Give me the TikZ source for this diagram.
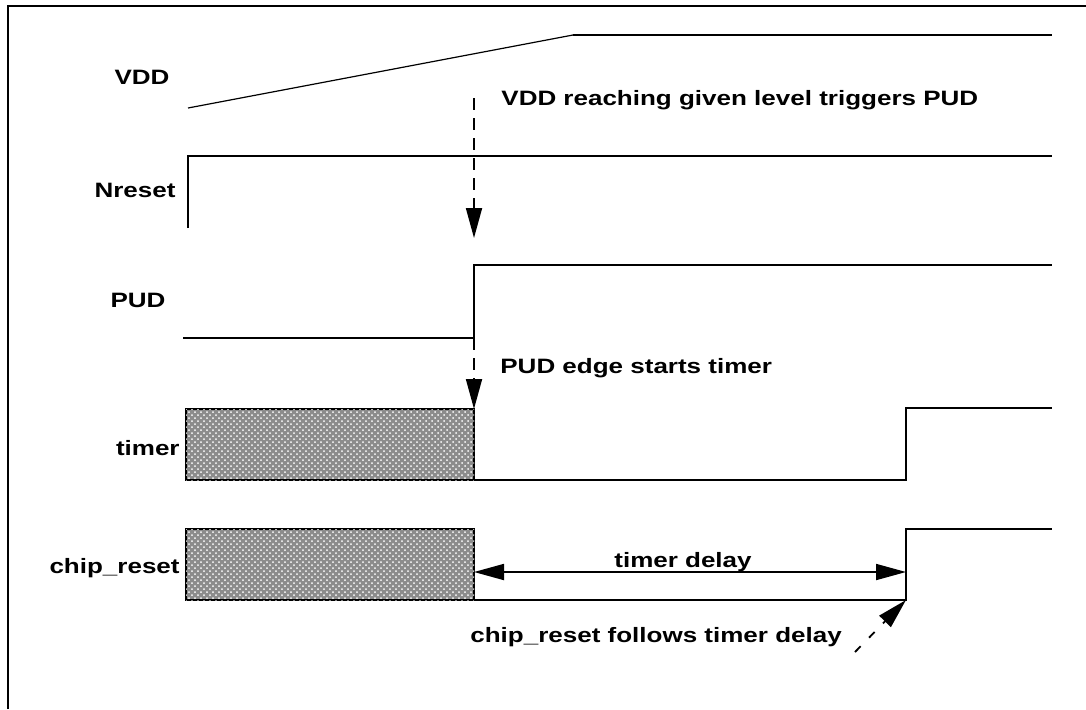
\documentclass[tikz,border=0pt]{standalone}
\usepackage{fontspec}
\setmainfont{Liberation Sans}
\usetikzlibrary{arrows.meta,patterns}

% wide, flat bold lettering of the original
\newcommand{\sigtext}[1]{\scalebox{1}[0.8]{\fontsize{13}{14}\selectfont\bfseries #1}}

\tikzset{
    wave/.style={line width=0.9pt},
    lbl/.style={inner sep=0pt},
    hatchbox/.style={wave, fill=black!45,
        postaction={pattern=crosshatch dots, pattern color=white}},
    cue/.style={line width=0.9pt, dash pattern=on 6pt off 4pt,
        -{Triangle[length=15pt,width=8pt]}},
    span/.style={line width=0.9pt,
        {Triangle[length=15pt,width=8pt]}-{Triangle[length=15pt,width=8pt]}}
}

\begin{document}
\begin{tikzpicture}[x=0.5pt, y=-0.5pt]

    \useasboundingbox (0,0) rectangle (1086,709);

    % 1. Outer frame (only top and left edge are in view)
    \draw[line width=1pt] (8,709) -- (8,6) -- (1086,6);

    % 2. Signal names
    \node[lbl] (vddname)   at (142,77)  {\sigtext{VDD}};
    \node[lbl] (nrstname)  at (135,190) {\sigtext{Nreset}};
    \node[lbl] (pudname)   at (138,300) {\sigtext{PUD}};
    \node[lbl, anchor=east] (timername) at (180,448) {\sigtext{timer}};
    \node[lbl, anchor=east] (chipname)  at (180,568) {\sigtext{chip\_reset}};

    % 3. Waveforms
    \coordinate (vddlow)  at (188,108);
    \coordinate (vddtop)  at (573,35);
    \draw[line width=0.6pt] (vddlow) -- (vddtop);
    \draw[wave] (vddtop) -- (1052,35);

    \draw[wave] (188,228) -- (188,156) -- (1052,156);

    \coordinate (pudedge) at (474,338);
    \draw[wave] (183,338) -- (pudedge) -- (474,265) -- (1052,265);

    \draw[hatchbox] (186,409) rectangle (474,480);
    \coordinate (timerstart) at (474,409);
    \draw[wave] (474,480) -- (906,480) -- (906,408) -- (1052,408);

    \draw[hatchbox] (186,529) rectangle (474,600);
    \coordinate (chipstart) at (474,572);
    \coordinate (chipedge)  at (906,600);
    \coordinate (chipend)   at (906,572);
    \draw[wave] (474,600) -- (chipedge) -- (906,529) -- (1052,529);

    % 4. Cause and effect arrows
    \coordinate (vddcue) at (474,98);
    \coordinate (nrstcue) at (474,238);
    \draw[cue] (vddcue) -- (nrstcue);
    \draw[cue] (pudedge) -- (timerstart);
    \draw[span] (chipstart) -- (chipend);
    \coordinate (followcue) at (855,652);
    \draw[cue, dash pattern=on 4pt off 6pt] (followcue) -- (chipedge);

    % 5. Notes
    \node[lbl, anchor=west] (vddnote)    at (501,100) {\sigtext{VDD reaching given level triggers PUD}};
    \node[lbl, anchor=west] (pudnote)    at (500,368) {\sigtext{PUD edge starts timer}};
    \node[lbl]              (delaynote)  at (683,562) {\sigtext{timer delay}};
    \node[lbl, anchor=west] (follownote) at (470,637) {\sigtext{chip\_reset follows timer delay}};

\end{tikzpicture}
\end{document}
